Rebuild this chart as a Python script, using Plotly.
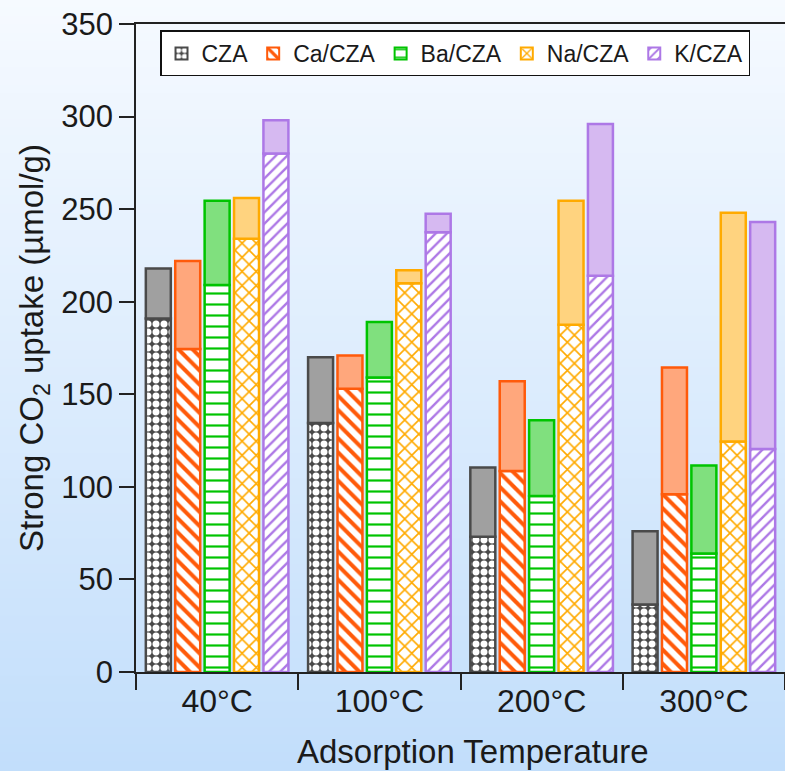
import plotly.graph_objects as go

categories = ["40°C", "100°C", "200°C", "300°C"]
series_names = ["CZA", "Ca/CZA", "Ba/CZA", "Na/CZA", "K/CZA"]

cza_strong = [191, 134.5, 73, 36.5]
cza_total = [218, 170, 110.5, 76]
ca_strong = [174.5, 153, 108.5, 96]
ca_total = [222, 171, 157, 164.5]
ba_strong = [209, 159, 95, 64]
ba_total = [254.5, 189, 136, 111.5]
na_strong = [234, 210, 187.5, 124.5]
na_total = [256, 217, 254.5, 248]
k_strong = [280, 237.5, 214, 120.5]
k_total = [298, 247.5, 296, 243]

strong_values = [cza_strong, ca_strong, ba_strong, na_strong, k_strong]
total_values = [cza_total, ca_total, ba_total, na_total, k_total]

line_colors = ["#4a4a4a", "#ff5a0a", "#00c400", "#ffaa00", "#ad78e6"]
top_colors = ["#a0a0a0", "#ffa77c", "#80e07e", "#ffd37f", "#d6b9f1"]
patterns = [
    dict(shape=".", size=8, solidity=0.6, fgcolor="white", bgcolor="#4a4a4a"),
    dict(shape="\\", size=10, solidity=0.4, fgcolor="#ff5a0a", bgcolor="white"),
    dict(shape="-", size=11, solidity=0.2, fgcolor="#00c400", bgcolor="white"),
    dict(shape="x", size=10, solidity=0.3, fgcolor="#ffaa00", bgcolor="white"),
    dict(shape="/", size=8, solidity=0.3, fgcolor="#ad78e6", bgcolor="white"),
]

FONT = "Liberation Sans, Arial, sans-serif"
fig = go.Figure()

for i, name in enumerate(series_names):
    strong = strong_values[i]
    total = total_values[i]
    pat = dict(patterns[i])
    pat.update(fillmode="replace")
    fig.add_trace(go.Bar(
        x=categories, y=strong, name=name, offsetgroup=str(i),
        legendgroup=name, showlegend=True,
        marker=dict(color="white", pattern=pat,
                    line=dict(color=line_colors[i], width=2.5)),
    ))
    fig.add_trace(go.Bar(
        x=categories, y=[t - s for t, s in zip(total, strong)], base=strong,
        name=name, offsetgroup=str(i), legendgroup=name, showlegend=False,
        marker=dict(color=top_colors[i],
                    line=dict(color=line_colors[i], width=2.5)),
    ))

# background gradient (paper coordinates extended over whole figure)
W, H = 785, 771
ml, mr, mt, mb = 136, 0, 24, 99
pw, ph = W - ml - mr, H - mt - mb
x0p = -ml / pw
x1p = 1 + mr / pw
y_bot = -mb / ph
y_top = 1 + mt / ph
top_rgb = (246, 250, 255)
bot_rgb = (194, 222, 251)
nb = 90
shapes = []
for k in range(nb):
    f = (k + 0.5) / nb
    c = tuple(round(top_rgb[j] + (bot_rgb[j] - top_rgb[j]) * f) for j in range(3))
    ya = y_top - (y_top - y_bot) * k / nb
    yb = y_top - (y_top - y_bot) * (k + 1) / nb
    shapes.append(dict(type="rect", xref="paper", yref="paper", x0=x0p, x1=x1p,
                       y0=yb - 0.002, y1=ya + 0.002, layer="below",
                       line=dict(width=0), fillcolor="rgb(%d,%d,%d)" % c))

x_title = "Adsorption Temperature"

fig.update_layout(
    width=W, height=H,
    margin=dict(l=ml, r=mr, t=mt, b=mb),
    paper_bgcolor="rgb(%d,%d,%d)" % bot_rgb,
    plot_bgcolor="rgba(0,0,0,0)",
    barmode="group", bargap=0.094, bargroupgap=0.15,
    font=dict(family=FONT, color="#1a1a1a", size=32),
    shapes=shapes,
    legend=dict(orientation="h", x=0.037, y=0.99, xanchor="left", yanchor="top",
                bgcolor="white", bordercolor="#111", borderwidth=1.5,
                font=dict(size=23, family=FONT), itemsizing="constant",
                traceorder="normal", tracegroupgap=0, itemwidth=30),
    xaxis=dict(
        tickson="boundaries", ticks="outside", ticklen=16, tickwidth=1.5,
        tickcolor="#222", showline=True, linecolor="#222", linewidth=1.5,
        mirror=True, showgrid=False, zeroline=False,
        tickfont=dict(size=32),
    ),
    yaxis=dict(
        range=[0, 350], tickvals=[0, 50, 100, 150, 200, 250, 300, 350],
        ticks="outside", ticklen=15, tickwidth=1.5, tickcolor="#222",
        showline=True, linecolor="#222", linewidth=1.5, showgrid=False,
        zeroline=False, tickfont=dict(size=31),
        title=dict(text="Strong CO<sub>2</sub> uptake (µmol/g)",
                   font=dict(size=33), standoff=8),
    ),
    annotations=[dict(text=x_title, xref="paper", yref="paper",
                      x=(473 - ml) / pw, y=(H - mb - 751) / ph,
                      xanchor="center", yanchor="middle", showarrow=False,
                      font=dict(size=33, family=FONT, color="#1a1a1a"))],
)

fig.write_html("out.html", config={"displayModeBar": False},
               post_script="document.body.style.margin='0px';document.body.style.overflow='hidden';")
